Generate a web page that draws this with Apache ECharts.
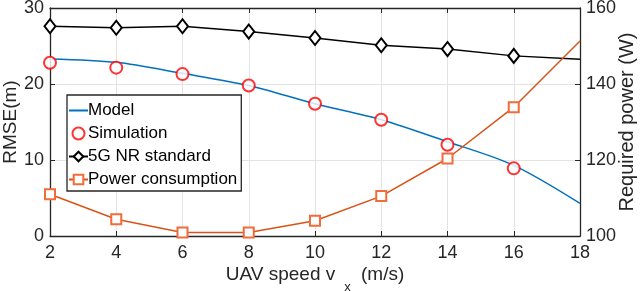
<!DOCTYPE html>
<html><head><meta charset="utf-8">
<script src="https://cdn.jsdelivr.net/npm/echarts@6/dist/echarts.min.js"></script>
<style>html,body{margin:0;padding:0;background:#fff}#c{width:640px;height:291px}</style>
</head><body><div id="c"></div>
<script>
const speeds = [2, 4, 6, 8, 10, 12, 14, 16, 18];
const modelRmse = [23.3, 22.85, 21.4, 19.8, 17.4, 15.3, 12.4, 9.3, 4.3];
const simSpeeds = [2, 4, 6, 8, 10, 12, 14, 16];
const simRmse = [22.8, 22.15, 21.3, 19.8, 17.4, 15.3, 12.0, 8.9];
const nrRmse = [27.6, 27.4, 27.6, 26.9, 26.05, 25.1, 24.6, 23.7, 23.25];
const power = [111.0, 104.4, 100.9, 100.9, 104.0, 110.5, 120.4, 133.9, 151.3];
const xTicks = [2, 4, 6, 8, 10, 12, 14, 16, 18];
const leftTicks = [0, 10, 20, 30];
const rightTicks = [100, 120, 140, 160];

const FONT = 'Liberation Sans, Arial, Helvetica, sans-serif';
const AX = '#262626';
const pairs = (xs, ys, markerUntil) => xs.map((x, i) => {
  const d = {value: [x, ys[i]]};
  if (markerUntil !== undefined && x > markerUntil) d.symbol = 'none';
  return d;
});

const chart = echarts.init(document.getElementById('c'), null, {renderer: 'canvas'});
const axisCommon = {
  nameMoveOverlap: false,
  axisLine: {show: true, onZero: false, lineStyle: {color: AX, width: 1.3}},
  axisTick: {show: true, inside: true, length: 5, lineStyle: {color: AX, width: 1}},
  axisLabel: {color: AX, fontSize: 18, fontFamily: FONT},
  nameTextStyle: {color: AX, fontSize: 19, fontFamily: FONT}
};
chart.setOption({
  animation: false,
  textStyle: {fontFamily: FONT},
  grid: {left: 50, right: 60, top: 8, bottom: 55, outerBoundsMode: 'none', containLabel: false},
  legend: {
    orient: 'vertical', left: 67, top: 95,
    backgroundColor: '#fff', borderColor: AX, borderWidth: 1.3,
    padding: [7, 4, 3, 1], itemGap: 6, itemWidth: 19, itemHeight: 12,
    textStyle: {color: '#000', fontSize: 17, lineHeight: 17, fontFamily: FONT, padding: [0, 0, 0, -5]},
    data: [
      {name: 'Model', itemStyle: {opacity: 0}},
      {name: 'Simulation'},
      {name: '5G NR standard'},
      {name: 'Power consumption'}
    ]
  },
  xAxis: [{
    type: 'value', min: 2, max: 18, interval: 2, ...axisCommon,
    axisLabel: {...axisCommon.axisLabel, margin: 8, formatter: v => xTicks.includes(v) ? String(v) : ''},
    splitLine: {show: true, lineStyle: {color: '#e3e3e3', width: 1}},
    name: '{a|UAV speed v}{s|x}{a| (m/s)}', nameLocation: 'middle', nameGap: 29,
    nameTextStyle: {rich: {
      a: {fontSize: 19, color: AX, fontFamily: FONT, lineHeight: 22, verticalAlign: 'top'},
      s: {fontSize: 13, color: AX, fontFamily: FONT, lineHeight: 22, verticalAlign: 'top', padding: [16, 5, 0, 9]}
    }}
  }, {
    type: 'value', position: 'top', min: 2, max: 18, interval: 2, ...axisCommon,
    axisLabel: {show: false}, splitLine: {show: false}
  }],
  yAxis: [{
    type: 'value', min: 0, max: 30, interval: 10, ...axisCommon,
    axisLabel: {...axisCommon.axisLabel, margin: 6, formatter: v => leftTicks.includes(v) ? String(v) : ''},
    splitLine: {show: true, lineStyle: {color: '#e3e3e3', width: 1}},
    name: 'RMSE(m)', nameLocation: 'middle', nameGap: 30
  }, {
    type: 'value', position: 'right', min: 100, max: 160, interval: 20, ...axisCommon,
    axisLabel: {...axisCommon.axisLabel, margin: 6, formatter: v => rightTicks.includes(v) ? String(v) : ''},
    splitLine: {show: false},
    name: 'Required power (W)', nameLocation: 'middle', nameGap: 37,
    nameTextStyle: {color: AX, fontSize: 20, fontFamily: FONT}
  }],
  series: [{
    name: 'Model', type: 'line', xAxisIndex: 0, yAxisIndex: 0, symbol: 'none', smooth: 0.3,
    lineStyle: {color: '#0072BD', width: 1.5}, itemStyle: {color: '#0072BD'},
    data: pairs(speeds, modelRmse), z: 2
  }, {
    name: 'Simulation', type: 'scatter', xAxisIndex: 0, yAxisIndex: 0, symbol: 'emptyCircle', symbolSize: 12,
    itemStyle: {color: '#ff0000', borderColor: '#ff0000', borderWidth: 2},
    data: pairs(simSpeeds, simRmse), z: 4
  }, {
    name: '5G NR standard', type: 'line', xAxisIndex: 0, yAxisIndex: 0, symbol: 'emptyDiamond', symbolSize: [11, 14], showAllSymbol: true,
    lineStyle: {color: '#000', width: 1.4}, itemStyle: {color: '#000', borderColor: '#000', borderWidth: 1.4},
    data: pairs(speeds, nrRmse, 16), z: 3
  }, {
    name: 'Power consumption', type: 'line', xAxisIndex: 0, yAxisIndex: 1, symbol: 'emptyRect', symbolSize: 10, showAllSymbol: true,
    lineStyle: {color: '#D95319', width: 1.5}, itemStyle: {color: '#F26B3A', borderColor: '#F26B3A', borderWidth: 1.4},
    data: pairs(speeds, power, 16), z: 3
  }]
});
</script></body></html>
